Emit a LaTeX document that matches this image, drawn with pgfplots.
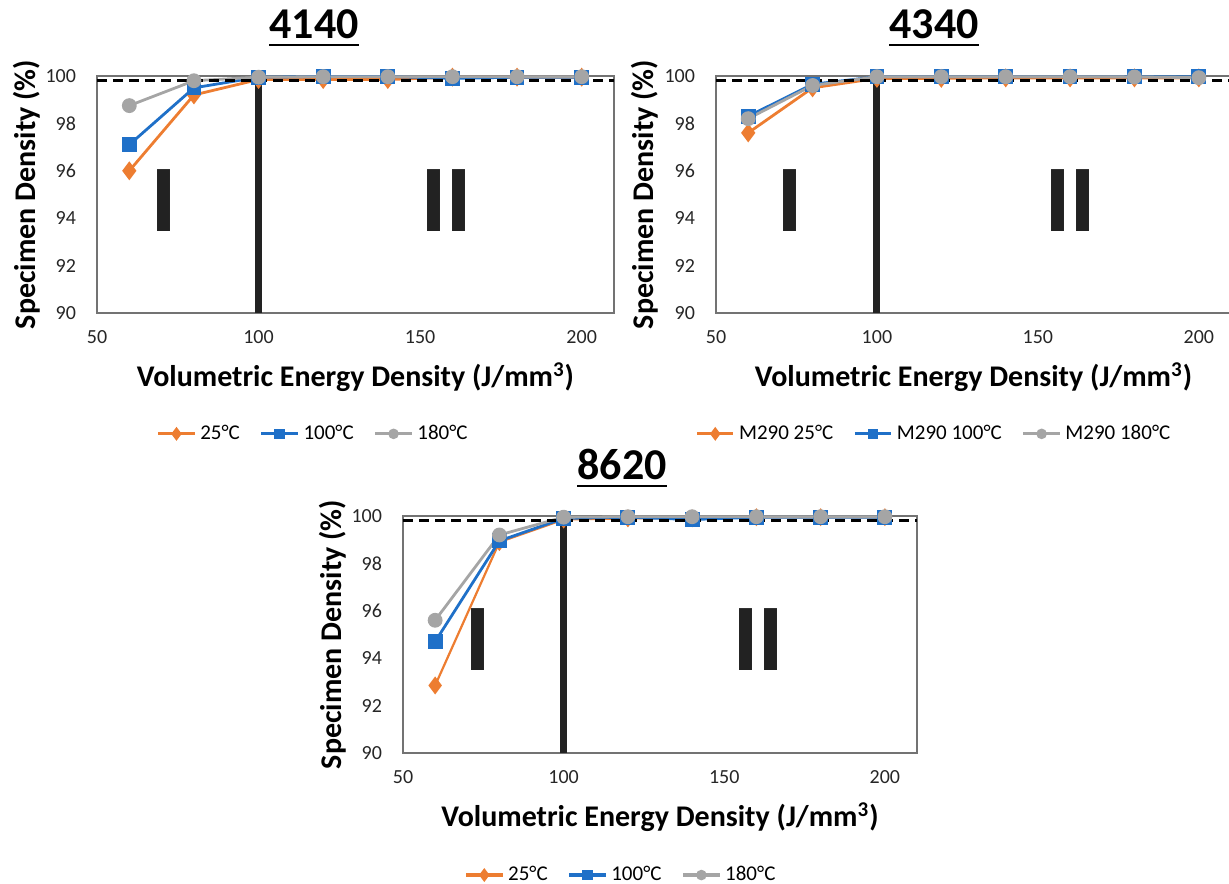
\documentclass[border=0pt]{standalone}
\usepackage{pgfplots}
\pgfplotsset{compat=1.18}
\usepackage{fontspec}
\setmainfont{Carlito}
\newfontfamily\barfont{Liberation Sans}
\definecolor{cOr}{RGB}{237,125,49}
\definecolor{cBl}{RGB}{31,112,200}
\definecolor{cGr}{RGB}{165,165,165}
\definecolor{cBk}{RGB}{34,34,34}
\pgfplotsset{
 panel/.style={
  scale only axis, height=118.5pt,
  xmin=50,xmax=210,ymin=90,ymax=100,
  xtick={50,100,150,200}, ytick={90,92,...,100},
  major tick length=0pt,
  tick label style={font=\fontsize{10}{12}\selectfont, color=black!85},
  xticklabel style={yshift=-5pt},
  yticklabel style={xshift=-7pt},
  /pgf/number format/assume math mode=true,
  axis line style={draw=black!55, line width=0.6pt},
  clip=false,
  xlabel={Volumetric Energy Density (J/mm\textsuperscript{3})},
  ylabel={Specimen Density (\%)},
  label style={font=\bfseries\fontsize{15}{17}\selectfont},
  xlabel style={at={(axis description cs:0.5,-0.27)},anchor=center},
  legend columns=3,
  legend style={draw=none, fill=none, font=\fontsize{10.5}{12}\selectfont, anchor=center,
    /tikz/every even column/.append style={column sep=8pt}},
  legend cell align=left,
  legend image code/.code={\draw[mark repeat=2,mark phase=2,line width=1.6pt,every mark/.append style={scale=0.6}] plot coordinates {(0cm,0cm) (0.32cm,0cm) (0.64cm,0cm)};},
 },
 sOr/.style={color=cOr, line width=1.4pt, mark=diamond*, mark size=3.6pt, mark options={solid}},
 sBl/.style={color=cBl, line width=1.4pt, mark=square*, mark size=3pt, mark options={solid}},
 sGr/.style={color=cGr, line width=1.4pt, mark=*, mark size=3pt, mark options={solid}},
 vline/.style={forget plot, color=cBk, line width=3.5pt},
 dline/.style={forget plot, color=black, line width=1.6pt, dash pattern=on 5pt off 3pt},
}
\newcommand{\barI}{\barfont\bfseries\fontsize{45}{45}\selectfont\color{cBk}}
\begin{document}
\begin{tikzpicture}
\useasboundingbox (0,0) rectangle (614.5pt,441.5pt);
% ---------- 4140 ----------
\begin{axis}[panel, width=258.5pt, at={(48.5pt,285pt)}, anchor=south west,
  ylabel style={at={(axis description cs:-0.135,0.5)},anchor=center},
  legend style={at={(axis description cs:0.42,-0.51)}}]
\addplot[sOr] coordinates {(60,96.0) (80,99.2) (100,99.85) (120,99.85) (140,99.85) (160,99.95) (180,99.95) (200,99.95)};
\addlegendentry{25°C}
\addplot[sBl] coordinates {(60,97.1) (80,99.5) (100,99.95) (120,99.98) (140,99.98) (160,99.9) (180,99.95) (200,99.95)};
\addlegendentry{100°C}
\addplot[sGr] coordinates {(60,98.75) (80,99.8) (100,99.95) (120,99.97) (140,99.97) (160,99.97) (180,99.97) (200,99.97)};
\addlegendentry{180°C}
\addplot[dline] coordinates {(50,99.8) (210,99.8)};
\addplot[vline] coordinates {(100,90) (100,99.9)};
\node[anchor=base, inner sep=0pt] at (axis cs:70.8,93.42) {\barI I};
\node[anchor=base, inner sep=0pt] at (axis cs:158.2,93.42) {\barI II};
\end{axis}
% ---------- 4340 ----------
\begin{axis}[panel, width=257.5pt, at={(358pt,285pt)}, anchor=south west,
  ylabel style={at={(axis description cs:-0.138,0.5)},anchor=center},
  legend style={at={(axis description cs:0.425,-0.51)}}]
\addplot[sOr] coordinates {(60,97.6) (80,99.5) (100,99.9) (120,99.9) (140,99.92) (160,99.92) (180,99.92) (200,99.92)};
\addlegendentry{M290 25°C}
\addplot[sBl] coordinates {(60,98.3) (80,99.65) (100,99.97) (120,99.97) (140,99.97) (160,99.97) (180,99.97) (200,99.97)};
\addlegendentry{M290 100°C}
\addplot[sGr] coordinates {(60,98.2) (80,99.6) (100,99.97) (120,99.97) (140,99.97) (160,99.97) (180,99.96) (200,99.93)};
\addlegendentry{M290 180°C}
\addplot[dline] coordinates {(50,99.8) (210,99.8)};
\addplot[vline] coordinates {(100,90) (100,99.9)};
\node[anchor=base, inner sep=0pt] at (axis cs:73.0,93.42) {\barI I};
\node[anchor=base, inner sep=0pt] at (axis cs:160.2,93.42) {\barI II};
\end{axis}
% ---------- 8620 ----------
\begin{axis}[panel, width=257pt, at={(201.5pt,65pt)}, anchor=south west,
  ylabel style={at={(axis description cs:-0.136,0.5)},anchor=center},
  legend style={at={(axis description cs:0.426,-0.515)}}]
\addplot[sOr, line width=1.1pt] coordinates {(60,92.85) (80,98.9) (100,99.85) (120,99.9) (140,99.9) (160,99.95) (180,99.95) (200,99.95)};
\addlegendentry{25°C}
\addplot[sBl] coordinates {(60,94.7) (80,98.95) (100,99.9) (120,99.95) (140,99.85) (160,99.95) (180,99.95) (200,99.95)};
\addlegendentry{100°C}
\addplot[sGr] coordinates {(60,95.6) (80,99.2) (100,99.95) (120,99.97) (140,99.97) (160,99.97) (180,99.97) (200,99.97)};
\addlegendentry{180°C}
\addplot[dline] coordinates {(50,99.8) (210,99.8)};
\addplot[vline] coordinates {(100,90) (100,99.9)};
\node[anchor=base, inner sep=0pt] at (axis cs:73.3,93.5) {\barI I};
\node[anchor=base, inner sep=0pt] at (axis cs:160.6,93.5) {\barI II};
\end{axis}
% ---------- titles ----------
\node[anchor=base, inner sep=0pt, font=\bfseries\fontsize{22}{24}\selectfont] (t1) at (157pt,422pt) {4140};
\draw[line width=1.3pt] ([yshift=-3pt]t1.base west) -- ([yshift=-3pt]t1.base east);
\node[anchor=base, inner sep=0pt, font=\bfseries\fontsize{22}{24}\selectfont] (t2) at (467pt,422pt) {4340};
\draw[line width=1.3pt] ([yshift=-3pt]t2.base west) -- ([yshift=-3pt]t2.base east);
\node[anchor=base, inner sep=0pt, font=\bfseries\fontsize{22}{24}\selectfont] (t3) at (311pt,201.5pt) {8620};
\draw[line width=1.3pt] ([yshift=-3pt]t3.base west) -- ([yshift=-3pt]t3.base east);
\end{tikzpicture}
\end{document}
